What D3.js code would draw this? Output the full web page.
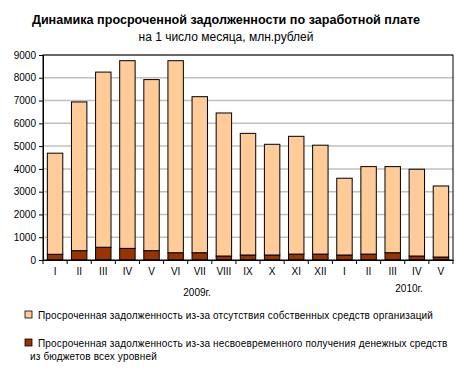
<!DOCTYPE html>
<html lang="ru">

<head>
    <meta charset="UTF-8">
    <title>Динамика просроченной задолженности</title>
    <style>
        body { margin: 0; background: #fff; }
        svg text { font-family: "Liberation Sans", Arial, sans-serif; }
    </style>
</head>

<body>
    <script src="https://cdn.jsdelivr.net/npm/d3@7"></script>
    <script>
        const months = ['I', 'II', 'III', 'IV', 'V', 'VI', 'VII', 'VIII', 'IX', 'X', 'XI', 'XII',
            'I', 'II', 'III', 'IV', 'V'];
        // debt because of budget delays (dark, bottom)
        const budget = [250, 410, 560, 510, 410, 320, 320, 175, 220, 220, 260, 260, 220, 260, 320, 175, 130];
        // debt because organisations lack own funds (light, top)
        const ownFunds = [4440, 6530, 7690, 8240, 7510, 8430, 6850, 6280, 5340, 4860, 5170, 4780, 3370, 3840, 3780, 3810, 3120];
        const yTicks = [0, 1000, 2000, 3000, 4000, 5000, 6000, 7000, 8000, 9000];
        const legendNames = [
            'Просроченная задолженность из-за отсутствия собственных средств организаций',
            'Просроченная задолженность из-за несвоевременного получения денежных средств',
            'из бюджетов всех уровней'
        ];

        const w = 470, h = 370;
        const pLeft = 43, pRight = 453, pTop = 55, pBottom = 260;

        const svg = d3.select('body').append('svg')
            .attr('width', w)
            .attr('height', h);

        svg.append('text')
            .attr('x', 226).attr('y', 24)
            .attr('text-anchor', 'middle')
            .attr('font-size', 12.6).attr('font-weight', 'bold')
            .text('Динамика просроченной задолженности по заработной плате');
        svg.append('text')
            .attr('x', 226).attr('y', 41)
            .attr('text-anchor', 'middle')
            .attr('font-size', 12)
            .text('на 1 число месяца, млн.рублей');

        const keys = months.map((m, i) => i);
        const x = d3.scaleBand().domain(keys).range([pLeft, pRight]).paddingInner(0.36).paddingOuter(0.18);
        const y = d3.scaleLinear().domain([0, 9000]).range([pBottom, pTop]);

        // grid
        svg.append('g').selectAll('line')
            .data(yTicks.slice(1))
            .join('line')
            .attr('x1', pLeft).attr('x2', pRight)
            .attr('y1', d => y(d)).attr('y2', d => y(d))
            .attr('stroke', '#c0c0c0').attr('stroke-width', 1.5);

        const rows = keys.map(i => ({ i: i, budget: budget[i], own: ownFunds[i] }));
        const stack = d3.stack().keys(['budget', 'own'])(rows);
        const colors = ['#993300', '#ffcc99'];

        svg.append('g').selectAll('g')
            .data(stack)
            .join('g')
            .attr('fill', (d, k) => colors[k])
            .selectAll('rect')
            .data(d => d)
            .join('rect')
            .attr('x', d => x(d.data.i))
            .attr('width', x.bandwidth())
            .attr('y', d => y(d[1]))
            .attr('height', d => y(d[0]) - y(d[1]))
            .attr('stroke', '#000').attr('stroke-width', 1);

        // frame
        svg.append('rect')
            .attr('x', pLeft).attr('y', pTop)
            .attr('width', pRight - pLeft).attr('height', pBottom - pTop)
            .attr('fill', 'none').attr('stroke', '#000').attr('stroke-width', 1);

        // y axis
        const yAxis = svg.append('g')
            .attr('transform', `translate(${pLeft},0)`)
            .call(d3.axisLeft(y).tickValues(yTicks).tickSize(4).tickFormat(d3.format('d')));
        yAxis.select('.domain').attr('stroke', '#000');
        yAxis.selectAll('text').attr('font-size', 10).attr('fill', '#000')
            .attr('font-family', '"Liberation Sans", Arial, sans-serif');

        // x axis: ticks between categories
        const xAxis = svg.append('g')
            .attr('transform', `translate(0,${pBottom})`)
            .call(d3.axisBottom(x).tickSize(0).tickFormat(i => months[i]));
        xAxis.select('.domain').attr('stroke', '#000');
        xAxis.selectAll('text').attr('font-size', 10).attr('fill', '#000').attr('dy', '1.2em')
            .attr('font-family', '"Liberation Sans", Arial, sans-serif');
        xAxis.append('g').selectAll('line')
            .data(d3.range(keys.length + 1))
            .join('line')
            .attr('x1', i => pLeft + i * (pRight - pLeft) / keys.length)
            .attr('x2', i => pLeft + i * (pRight - pLeft) / keys.length)
            .attr('y1', 0).attr('y2', 4)
            .attr('stroke', '#000');

        svg.append('text').attr('x', 197).attr('y', 296)
            .attr('text-anchor', 'middle').attr('font-size', 10).text('2009г.');
        svg.append('text').attr('x', 409).attr('y', 292)
            .attr('text-anchor', 'middle').attr('font-size', 10).text('2010г.');

        // legend
        const legend = svg.append('g');
        const legendRows = [
            { color: colors[1], y: 315, lines: [legendNames[0]] },
            { color: colors[0], y: 343, lines: [legendNames[1], legendNames[2]] }
        ];
        legendRows.forEach(r => {
            legend.append('rect')
                .attr('x', 25).attr('y', r.y - 4).attr('width', 7).attr('height', 7)
                .attr('fill', r.color).attr('stroke', '#000').attr('stroke-width', 0.8);
            r.lines.forEach((t, j) => {
                legend.append('text')
                    .attr('x', j === 0 ? 38 : 30).attr('y', r.y + 4 + j * 13)
                    .attr('font-size', 10).attr('letter-spacing', 0.16)
                    .text(t);
            });
        });
    </script>
</body>

</html>
